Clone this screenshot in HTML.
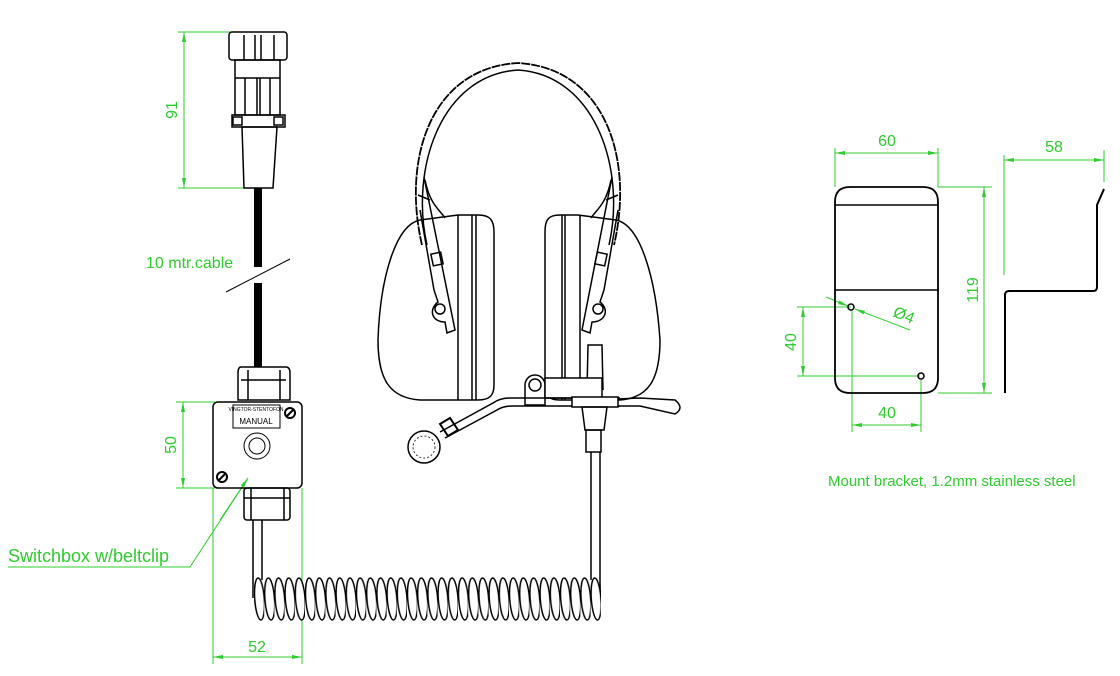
<!DOCTYPE html>
<html><head><meta charset="utf-8"><style>
html,body{margin:0;padding:0;background:#fff;}
svg{display:block;}
text{font-family:"Liberation Sans",sans-serif;fill:#2ecc2e;}
</style></head><body>
<svg width="1120" height="676" viewBox="0 0 1120 676" xmlns="http://www.w3.org/2000/svg">
<defs>
<marker id="a" viewBox="0 0 10 4" refX="10" refY="2" markerWidth="10" markerHeight="4" orient="auto-start-reverse" markerUnits="userSpaceOnUse"><path d="M0,0 L10,2 L0,4z" fill="#2ecc2e"/></marker>
<pattern id="coil" x="254" y="576" width="10.2" height="46" patternUnits="userSpaceOnUse">
<ellipse cx="5.5" cy="23" rx="4.8" ry="21" fill="#fff" stroke="#000" stroke-width="1.5" transform="rotate(-4 5.5 23)"/>
</pattern>
</defs>
<g stroke="#2ecc2e" stroke-width="1" fill="none">
<line x1="178" y1="32" x2="232" y2="32"/><line x1="178" y1="188" x2="243" y2="188"/>
<line x1="184" y1="32" x2="184" y2="188" marker-start="url(#a)" marker-end="url(#a)"/>
<line x1="176" y1="402" x2="215" y2="402"/><line x1="176" y1="488" x2="215" y2="488"/>
<line x1="183" y1="402" x2="183" y2="488" marker-start="url(#a)" marker-end="url(#a)"/>
<line x1="213" y1="488" x2="213" y2="664"/><line x1="302" y1="488" x2="302" y2="664"/>
<line x1="213" y1="657" x2="302" y2="657" marker-start="url(#a)" marker-end="url(#a)"/>
<polyline points="8,567 190,567 248,478"/>
<line x1="220" y1="520" x2="248" y2="478" marker-end="url(#a)"/>
<line x1="835" y1="148" x2="835" y2="187"/><line x1="938" y1="148" x2="938" y2="187"/>
<line x1="835" y1="153" x2="938" y2="153" marker-start="url(#a)" marker-end="url(#a)"/>
<line x1="938" y1="187" x2="992" y2="187"/><line x1="938" y1="393" x2="992" y2="393"/>
<line x1="984" y1="187" x2="984" y2="393" marker-start="url(#a)" marker-end="url(#a)"/>
<line x1="797" y1="307" x2="851" y2="307"/><line x1="797" y1="376" x2="920" y2="376"/>
<line x1="803" y1="307" x2="803" y2="376" marker-start="url(#a)" marker-end="url(#a)"/>
<line x1="852" y1="310" x2="852" y2="432"/><line x1="921" y1="380" x2="921" y2="432"/>
<line x1="852" y1="425" x2="921" y2="425" marker-start="url(#a)" marker-end="url(#a)"/>
<line x1="826" y1="297" x2="848" y2="306" marker-end="url(#a)"/>
<line x1="910" y1="330" x2="855" y2="309" marker-end="url(#a)"/>
<line x1="1004" y1="155" x2="1004" y2="275"/><line x1="1104" y1="150" x2="1104" y2="182"/>
<line x1="1004" y1="160" x2="1104" y2="160" marker-start="url(#a)" marker-end="url(#a)"/>
</g>
<text x="177" y="110" font-size="16" transform="rotate(-90 177 110)" text-anchor="middle">91</text>
<text x="176" y="445" font-size="16" transform="rotate(-90 176 445)" text-anchor="middle">50</text>
<text x="257" y="652" font-size="16" text-anchor="middle">52</text>
<text x="146" y="268" font-size="16">10 mtr.cable</text>
<text x="8" y="562" font-size="18">Switchbox w/beltclip</text>
<text x="887" y="146" font-size="16" text-anchor="middle">60</text>
<text x="1054" y="152" font-size="16" text-anchor="middle">58</text>
<text x="978" y="290" font-size="16" transform="rotate(-90 978 290)" text-anchor="middle">119</text>
<text x="796" y="342" font-size="16" transform="rotate(-90 796 342)" text-anchor="middle">40</text>
<text x="887" y="418" font-size="16" text-anchor="middle">40</text>
<text x="902" y="320" font-size="16" transform="rotate(22 902 320)" text-anchor="middle">Ø4</text>
<text x="828" y="486" font-size="15">Mount bracket, 1.2mm stainless steel</text>

<g stroke="#000" stroke-width="1.5" fill="none">
<rect x="229" y="32" width="58" height="28" rx="3"/>
<line x1="244" y1="35" x2="244" y2="60"/><line x1="255" y1="35" x2="255" y2="60"/><line x1="261" y1="35" x2="261" y2="60"/><line x1="274" y1="35" x2="274" y2="60"/>
<rect x="235" y="60" width="45" height="55"/>
<line x1="235" y1="78" x2="280" y2="78"/>
<line x1="245" y1="78" x2="245" y2="115"/><line x1="257" y1="78" x2="257" y2="115"/><line x1="260" y1="78" x2="260" y2="115"/><line x1="270" y1="78" x2="270" y2="115"/>
<rect x="232" y="115" width="53" height="12"/>
<rect x="233" y="117" width="9" height="8"/><rect x="274" y="117" width="9" height="8"/>
<polygon points="242,127 277,127 273,188 244,188"/>
<line x1="258" y1="188" x2="258" y2="267" stroke-width="8"/>
<line x1="258" y1="283" x2="258" y2="367" stroke-width="8"/>
<line x1="226" y1="292" x2="290" y2="259" stroke-width="1"/>
<path d="M241,367 h45 q4,0 4,6 v27 h-52 v-27 q0,-6 3,-6z"/>
<line x1="241" y1="380" x2="286" y2="380"/><line x1="248" y1="370" x2="248" y2="400"/><line x1="280" y1="370" x2="280" y2="400"/>
<rect x="213" y="402" width="89" height="86" rx="5"/>
<rect x="233" y="405" width="47" height="23" stroke-width="1"/>
<circle cx="257" cy="446" r="13" stroke-width="1"/><circle cx="257" cy="446" r="8" stroke-width="1"/>
<circle cx="290" cy="413" r="5" stroke-width="2"/><line x1="287" y1="416" x2="293" y2="410" stroke-width="2"/>
<circle cx="222" cy="477" r="5" stroke-width="2"/><line x1="219" y1="480" x2="225" y2="474" stroke-width="2"/>
<rect x="244" y="488" width="46" height="32" rx="3"/>
<line x1="244" y1="498" x2="290" y2="498"/><line x1="251" y1="488" x2="251" y2="520"/><line x1="284" y1="488" x2="284" y2="520"/>
<line x1="253" y1="520" x2="253" y2="598"/><line x1="262" y1="520" x2="262" y2="580"/>
<line x1="591" y1="452" x2="591" y2="580"/><line x1="600" y1="452" x2="600" y2="598"/>
<!-- headband -->
<path d="M422,245 C402,160 430,68 518,63 C606,68 634,160 614,245" stroke-dasharray="9,1" stroke-width="1.8"/>
<path d="M427,245 C410,170 440,75 518,70 C596,75 626,170 609,245"/>
<path d="M430,200 L418,195 M606,200 L618,195"/>
<path d="M458,215 L420,220 C395,225 380,280 378,340 C378,380 390,398 420,400 L478,400 C490,400 494,395 494,385 L494,232 C494,220 490,215 478,215 Z"/>
<line x1="458" y1="215" x2="458" y2="400"/><line x1="472" y1="215" x2="472" y2="400"/><line x1="476" y1="215" x2="476" y2="400"/>
<path d="M424,177 L455,330 L447,333 L445,322 C432,322 428,310 438,302 L434,290 L420,210"/>
<path d="M425,180 C430,205 440,210 445,218"/>
<circle cx="440" cy="309" r="5"/>
<rect x="432" y="253" width="10" height="12" transform="rotate(-12 437 259)"/>
<path d="M578,215 L616,220 C641,225 656,280 660,340 C660,380 648,398 620,400 L560,400 C548,400 545,395 545,385 L545,232 C545,220 548,215 560,215 Z"/>
<line x1="562" y1="215" x2="562" y2="400"/><line x1="565" y1="215" x2="565" y2="400"/><line x1="580" y1="215" x2="580" y2="400"/>
<path d="M612,177 L582,330 L590,333 L592,322 C605,322 610,310 600,302 L604,290 L618,210"/>
<path d="M611,180 C606,205 596,210 591,218"/>
<circle cx="598" cy="309" r="5"/>
<rect x="596" y="253" width="10" height="12" transform="rotate(12 601 259)"/>
<path d="M587,390 L588,345 h14 l1,45"/>
<path d="M525,405 v-20 a10,10 0 0 1 20,0 v20 z" fill="#fff"/>
<circle cx="535" cy="385" r="6"/>
<rect x="545" y="378" width="57" height="20" fill="#fff"/>
<path d="M440,432 L493,403 Q500,398 510,398 L620,398 M445,438 L497,410 Q503,406 512,406 L620,406"/>
<rect x="572" y="397" width="46" height="10" fill="#fff"/>
<path d="M618,399 L640,398 L675,400 Q685,408 675,414 L640,406 L618,406"/>
<path d="M582,407 h25 l-3,23 h-19 z"/><path d="M586,430 h15 v22 h-15z"/>
<path d="M440,424 l10,-6 l8,12 l-10,6 z" stroke-width="2"/>
<circle cx="424" cy="447" r="16"/><circle cx="424" cy="447" r="11" stroke-width="0.8" stroke-dasharray="2,2"/>
<path d="M850,187 H923 Q938,187 938,202 V378 Q938,393 923,393 H850 Q835,393 835,378 V202 Q835,187 850,187 Z" stroke-width="1.8"/>
<line x1="835" y1="205" x2="938" y2="205"/><line x1="835" y1="290" x2="938" y2="290"/>
<circle cx="851" cy="307" r="3"/><circle cx="921" cy="376" r="3"/>
<path d="M1005,393 V295 Q1005,291 1009,291 H1093 Q1097,291 1097,287 V205 L1104,189" stroke-width="2"/>
</g>
<rect x="254" y="576" width="347" height="46" fill="url(#coil)"/>
<text x="256" y="411" font-size="5" style="fill:#000" text-anchor="middle">VINGTOR-STENTOFON</text>
<text x="256" y="424" font-size="8" style="fill:#000" text-anchor="middle">MANUAL</text>
</svg>
</body></html>
